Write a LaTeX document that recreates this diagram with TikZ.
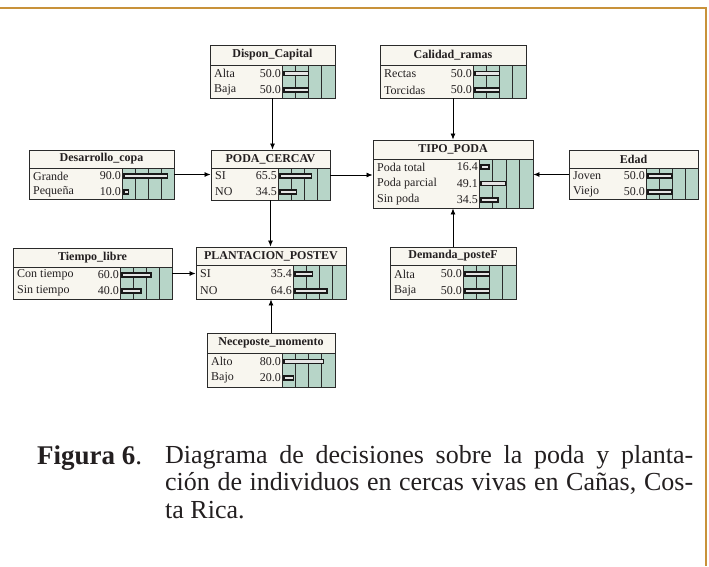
\documentclass[tikz,border=0pt]{standalone}
\usepackage{fontspec}
\setmainfont{Liberation Serif}
\usetikzlibrary{arrows.meta,fit,positioning}
\definecolor{bodybg}{HTML}{F8F6EF}
\definecolor{bargreen}{HTML}{B7D5C8}
\definecolor{boxc}{HTML}{2A2A2A}
\definecolor{framec}{HTML}{C8923A}
\definecolor{capc}{HTML}{231F20}
\tikzset{
  ttl/.style={font=\fontsize{12}{12}\selectfont\bfseries, text=capc, inner sep=0pt},
  lbl/.style={font=\fontsize{12}{12}\selectfont, text=capc, inner sep=0pt},
  gridl/.style={draw=boxc, line width=0.7pt},
  divl/.style={draw=boxc, line width=0.9pt},
  barr/.style={draw=black!90, fill=black!10, line width=1.5pt},
  arr/.style={draw=black, line width=0.8pt, -{Latex[length=6pt,width=5pt]}},
}
\newcommand\bnode[9]{%
  \fill[bodybg] (#2,#3) rectangle (#7,#5);
  \fill[bargreen] (#6,#4) rectangle (#7,#5);
  \pgfmathsetmacro\bw{(#7-#6)/4}
  \foreach \k in {1,2,3}{\draw[gridl] ({#6+\k*\bw},#4) -- ({#6+\k*\bw},#5);}
  \draw[gridl] (#6,#4) -- (#6,#5);
  \draw[divl] (#2,#4) -- (#7,#4);
  \node[ttl] at ({(#2+#7)/2},{(#3+#4)/2}) {#8};
  \foreach \lab/\val/\yy in {#9}{
    \node[lbl, anchor=west] at (#2+4,\yy) {\lab};
    \node[lbl, anchor=east] at (#6-1,\yy) {\val};
    \draw[barr] (#6+1.8,\yy-2) rectangle ({#6+1.8+\val/100*(#7-#6-3.5)},\yy+2);
  }
  \node[fit={(#2,#3) (#7,#5)}, inner sep=0pt, draw=boxc, line width=0.9pt] (#1) {};
}
\begin{document}
\begin{tikzpicture}[x=1pt,y=-1pt]
\useasboundingbox (0,0) rectangle (709,566);
\fill[white] (0,0) rectangle (709,566);
% frame
\draw[framec, line width=1.6pt] (0,8) -- (706,8) -- (706,566);

\bnode{dc}{210}{45}{65}{98}{282}{335}{Dispon\_Capital}{Alta/50.0/73.5, Baja/50.0/90}
\bnode{cr}{380}{45}{65}{98}{473}{526}{Calidad\_ramas}{Rectas/50.0/73.5, Torcidas/50.0/90}
\bnode{dco}{29}{150}{168}{199}{122}{174}{Desarrollo\_copa}{Grande/90.0/176, Pequeña/10.0/192}
\bnode{pc}{211}{150}{168}{200}{278}{330}{PODA\_CERCAV}{SI/65.5/176, NO/34.5/192}
\bnode{tp}{373}{140}{159}{208}{479}{533}{TIPO\_PODA}{Poda total/16.4/167, Poda parcial/49.1/183.5, Sin poda/34.5/200}
\bnode{ed}{569}{150}{168}{199}{646}{698}{Edad}{Joven/50.0/176, Viejo/50.0/192}
\bnode{tl}{13}{248}{267}{299}{120}{172}{Tiempo\_libre}{Con tiempo/60.0/275, Sin tiempo/40.0/291}
\bnode{pp}{196}{247}{265}{299}{293}{346}{PLANTACION\_POSTEV}{SI/35.4/274, NO/64.6/291}
\bnode{dp}{390}{247}{265}{299}{463}{516}{Demanda\_posteF}{Alta/50.0/274, Baja/50.0/291}
\bnode{nm}{207}{333}{353}{387}{282}{335}{Neceposte\_momento}{Alto/80.0/361.5, Bajo/20.0/378}

% connectors
\draw[arr] (dc.south) -- (dc.south |- pc.north);
\draw[arr] (dco.east) -- (dco.east -| pc.west);
\draw[arr] (pc.east) -- (pc.east -| tp.west);
\draw[arr] (cr.south) -- (cr.south |- tp.north);
\draw[arr] (ed.west) -- (ed.west -| tp.east);
\draw[arr] (dp.north) -- (dp.north |- tp.south);
\draw[arr] (pc.south) -- (pc.south |- pp.north);
\draw[arr] (tl.east) -- (tl.east -| pp.west);
\draw[arr] (nm.north) -- (nm.north |- pp.south);

% caption
\node[anchor=base west, inner sep=0pt, text=capc, font=\fontsize{27}{27.5}\selectfont] (fig) at (37,464) {\textbf{Figura 6}.};
\node[anchor=north west, inner sep=0pt, text=capc, text width=528pt, align=justify,
      font=\fontsize{26}{27.5}\selectfont] (cap) at (165,445)
  {Diagrama de decisiones sobre la poda y planta-\linebreak ción de individuos en cercas vivas en Cañas, Cos-\linebreak ta Rica.};
\end{tikzpicture}
\end{document}
